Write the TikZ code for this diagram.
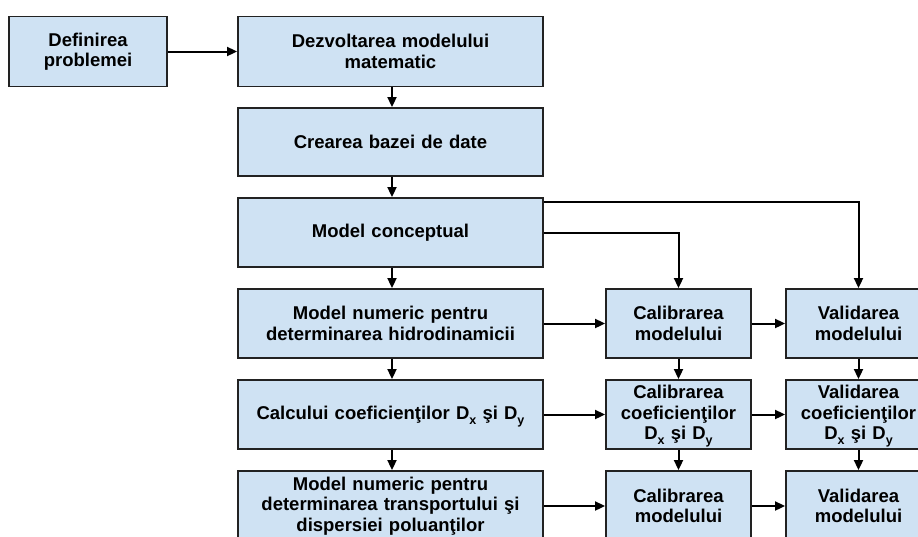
\documentclass[tikz,border=0pt]{standalone}
\usepackage{fontspec}
\setmainfont{Liberation Sans}
\usetikzlibrary{arrows.meta}
\definecolor{boxfill}{HTML}{CFE2F3}
\definecolor{boxline}{HTML}{222222}
% lowered subscript used for the coefficient names (no extra depth)
\newcommand{\lowsub}[1]{\raisebox{-5pt}[0pt][0pt]{\fontsize{12.5}{12.5}\selectfont #1}}
\begin{document}
\begin{tikzpicture}[x=1pt,y=-1pt,
  stage/.style={draw=boxline, line width=1.9pt, fill=boxfill, inner sep=0pt,
    align=center, font=\fontsize{18.5}{20.5}\selectfont\bfseries},
  wide/.style={stage, minimum width=305pt, minimum height=69pt, text width=300pt},
  narrow/.style={stage, minimum width=145pt, minimum height=69pt, text width=144pt},
  flow/.style={draw=black, line width=2pt, -{Triangle[length=10pt,width=9pt]}}]
\clip (0,0) rectangle (918,536);
\fill[white] (0,0) rectangle (918,536);

% left-hand start box
\node[stage, minimum width=158pt, minimum height=70pt, text width=150pt] (def) at (88,51.5) {Definirea\\problemei};

% main column
\node[wide, minimum height=70pt] (dezv) at (390.5,51.5) {Dezvoltarea modelului\\matematic};
\node[wide, minimum height=68pt] (baza) at (390.5,142) {Crearea bazei de date};
\node[wide] (conc) at (390.5,232.5) {Model conceptual};
\node[wide] (hidro) at (390.5,323.5) {Model numeric pentru\\determinarea hidrodinamicii};
\node[wide] (coef) at (390.5,414.5) {Calcului coeficienţilor D\lowsub{x} şi D\lowsub{y}};
\node[wide, minimum height=70pt] (trans) at (390.5,506) {Model numeric pentru\\determinarea transportului şi\\dispersiei poluanţilor};

% calibration column
\node[narrow] (cal1) at (678.5,323.5) {Calibrarea\\modelului};
\node[narrow] (cal2) at (678.5,414.5) {Calibrarea\\coeficienţilor\\D\lowsub{x} şi D\lowsub{y}};
\node[narrow, minimum height=70pt] (cal3) at (678.5,506) {Calibrarea\\modelului};

% validation column
\node[narrow] (val1) at (858.5,323.5) {Validarea\\modelului};
\node[narrow] (val2) at (858.5,414.5) {Validarea\\coeficienţilor\\D\lowsub{x} şi D\lowsub{y}};
\node[narrow, minimum height=70pt] (val3) at (858.5,506) {Validarea\\modelului};

% connectors
\draw[flow] (def) -- (dezv);
\draw[flow] (dezv.south -| 392,0) -- (baza.north -| 392,0);
\draw[flow] (baza.south -| 392,0) -- (conc.north -| 392,0);
\draw[flow] (conc.south -| 392,0) -- (hidro.north -| 392,0);
\draw[flow] (hidro.south -| 392,0) -- (coef.north -| 392,0);
\draw[flow] (coef.south -| 392,0) -- (trans.north -| 392,0);

\draw[flow] (conc.east |- 0,202) -| (val1.north);
\draw[flow] (conc.east) -| (cal1.north);

\draw[flow] (hidro) -- (cal1);
\draw[flow] (cal1) -- (val1);
\draw[flow] (coef) -- (cal2);
\draw[flow] (cal2) -- (val2);
\draw[flow] (trans) -- (cal3);
\draw[flow] (cal3) -- (val3);

\draw[flow] (cal1) -- (cal2);
\draw[flow] (cal2) -- (cal3);
\draw[flow] (val1) -- (val2);
\draw[flow] (val2) -- (val3);
\end{tikzpicture}
\end{document}
